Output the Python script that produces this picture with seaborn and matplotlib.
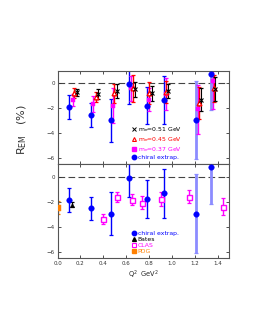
import numpy as np
import pandas as pd
import matplotlib
matplotlib.use("Agg")
import matplotlib.pyplot as plt
from matplotlib.lines import Line2D
import seaborn as sns

# chiral extrapolation (both panels)
chi_q2 = [0.103, 0.29, 0.464, 0.627, 0.778, 0.929, 1.205, 1.336]
chi_r = [-1.88, -2.55, -2.98, -0.08, -1.80, -1.34, -2.95, 0.73]
chi_err = [0.95, 0.95, 1.72, 1.55, 1.50, 1.95, 3.15, 2.90]
chi_light = [False, False, False, False, False, False, True, True]

# lattice masses (top panel)
m37_q2 = [0.132, 0.312, 0.481, 0.643, 0.80, 0.946, 1.222, 1.353]
m37_r = [-1.34, -1.69, -1.80, -0.40, -1.30, -0.88, -2.10, 0.20]
m37_err = [0.50, 0.65, 1.40, 1.00, 0.90, 1.30, 2.00, 2.30]

m45_q2 = [0.147, 0.333, 0.49, 0.66, 0.80, 0.95, 1.23, 1.367]
m45_r = [-0.80, -1.07, -0.80, -0.40, -0.75, -0.67, -1.60, -0.40]
m45_err = [0.40, 0.40, 0.75, 1.10, 0.90, 0.90, 1.30, 1.10]

m51_q2 = [0.173, 0.35, 0.516, 0.676, 0.82, 0.96, 1.25, 1.373]
m51_r = [-0.72, -0.88, -0.59, -0.48, -0.80, -0.61, -1.30, -0.45]
m51_err = [0.30, 0.40, 0.55, 0.60, 0.60, 0.55, 0.90, 1.00]

# experiment (bottom panel)
bates_q2 = [0.127]
bates_r = [-2.26]
bates_err = [0.20]

pdg_q2 = [0.0]
pdg_r = [-2.48]
pdg_err = [0.50]

clas_q2 = [0.40, 0.52, 0.65, 0.74, 0.90, 1.15, 1.445]
clas_r = [-3.40, -1.62, -1.86, -2.08, -1.80, -1.60, -2.40]
clas_err = [0.40, 0.40, 0.45, 0.55, 0.55, 0.50, 0.70]

BLUE = "#0000ff"
LBLUE = "#8c8cff"
MAG = "#ff00ff"
RED = "#ff0000"
ORANGE = "#ff8000"

sns.set_style("ticks")
plt.rcParams["font.family"] = ["DejaVu Sans"]

fig = plt.figure(figsize=(2.55, 3.3), dpi=100)
ax1 = fig.add_axes([0.2255, 0.503, 0.6745, 0.2818])
ax2 = fig.add_axes([0.2255, 0.2182, 0.6745, 0.2848])


def errs(ax, q2, r, e, color, lw=1.0, z=2):
    ax.errorbar(q2, r, yerr=e, fmt="none", ecolor=color, elinewidth=lw,
                capsize=1.7, capthick=0.9, zorder=z)


def dots(ax, q2, r, marker, color, size, z=4):
    # filled markers through seaborn
    df = pd.DataFrame({"q2": q2, "r": r})
    sns.scatterplot(data=df, x="q2", y="r", ax=ax, marker=marker, s=size,
                    color=color, edgecolor=color, linewidth=0.3, zorder=z,
                    legend=False)


def opens(ax, q2, r, marker, color, ms, z=4):
    ax.plot(q2, r, ls="none", marker=marker, ms=ms, mfc="white",
            mec=color, mew=1.0, zorder=z)


def chiral(ax):
    q = np.array(chi_q2)
    r = np.array(chi_r)
    e = np.array(chi_err)
    light = np.array(chi_light)
    errs(ax, q[~light], r[~light], e[~light], BLUE, lw=1.0, z=2)
    errs(ax, q[light], r[light], e[light], LBLUE, lw=2.0, z=1)
    dots(ax, chi_q2, chi_r, "o", BLUE, 16, z=5)


# top panel
chiral(ax1)
errs(ax1, m37_q2, m37_r, m37_err, MAG)
errs(ax1, m45_q2, m45_r, m45_err, RED)
errs(ax1, m51_q2, m51_r, m51_err, "black", lw=0.8)
dots(ax1, m37_q2, m37_r, "s", MAG, 6)
opens(ax1, m45_q2, m45_r, "^", RED, 3.4)
ax1.plot(m51_q2, m51_r, ls="none", marker="x", ms=3.0, mew=0.8,
         color="black", zorder=4)

# bottom panel
chiral(ax2)
errs(ax2, bates_q2, bates_r, bates_err, "black", lw=0.8)
errs(ax2, pdg_q2, pdg_r, pdg_err, ORANGE)
errs(ax2, clas_q2, clas_r, clas_err, MAG)
dots(ax2, bates_q2, bates_r, "^", "black", 10)
dots(ax2, pdg_q2, pdg_r, "s", ORANGE, 16, z=6)
opens(ax2, clas_q2, clas_r, "s", MAG, 3.6)

for ax in (ax1, ax2):
    ax.axhline(0, color="#444444", lw=0.8, dashes=(6, 3), zorder=0)
    ax.set_xlim(0, 1.5)
    ax.set_ylim(-6.5, 1)
    ax.set_xticks([0.0, 0.2, 0.4, 0.6, 0.8, 1.0, 1.2, 1.4])
    ax.set_yticks([0, -2, -4, -6])
    ax.tick_params(direction="in", length=2.5, width=0.6, labelsize=4,
                   top=True, right=True, pad=2, colors="#333333")
    ax.set_xlabel("")
    ax.set_ylabel("")
    for s in ax.spines.values():
        s.set_linewidth(0.8)
        s.set_color("#555555")

ax1.set_xticklabels([])
ax2.set_xticklabels(["0.0", "0.2", "0.4", "0.6", "0.8", "1.0", "1.2", "1.4"])
ax2.set_xlabel(r"Q$^2$  GeV$^2$", fontsize=4.8, labelpad=2)

h1 = [
    Line2D([], [], ls="none", marker="x", color="black", ms=2.6, mew=0.7),
    Line2D([], [], ls="none", marker="^", mfc="none", mec=RED, ms=2.8, mew=0.8),
    Line2D([], [], ls="none", marker="s", color=MAG, ms=2.2),
    Line2D([], [], ls="none", marker="o", color=BLUE, ms=3.2),
]
l1 = [r"m$_\pi$=0.51 GeV", r"m$_\pi$=0.45 GeV", r"m$_\pi$=0.37 GeV",
      "chiral extrap."]
ax1.legend(h1, l1, loc="lower left", bbox_to_anchor=(0.41, 0.0),
           frameon=False, fontsize=4.4, labelspacing=0.12, handlelength=0.6,
           handletextpad=0.3, borderpad=0.2,
           labelcolor=["black", RED, MAG, BLUE])

h2 = [
    Line2D([], [], ls="none", marker="o", color=BLUE, ms=3.2),
    Line2D([], [], ls="none", marker="^", color="black", ms=2.8),
    Line2D([], [], ls="none", marker="s", mfc="white", mec=MAG, ms=2.8, mew=0.8),
    Line2D([], [], ls="none", marker="s", color=ORANGE, ms=3.2),
]
l2 = ["chiral extrap.", "Bates", "CLAS", "PDG"]
ax2.legend(h2, l2, loc="lower left", bbox_to_anchor=(0.41, 0.0),
           frameon=False, fontsize=4.4, labelspacing=0.12, handlelength=0.6,
           handletextpad=0.3, borderpad=0.2,
           labelcolor=[BLUE, "black", MAG, ORANGE])

fig.text(0.086, 0.606, r"R$_{\rm EM}$   (%)", rotation=90, fontsize=8,
         ha="center", va="center", color="#333333")

fig.savefig("out.png", dpi=100)
